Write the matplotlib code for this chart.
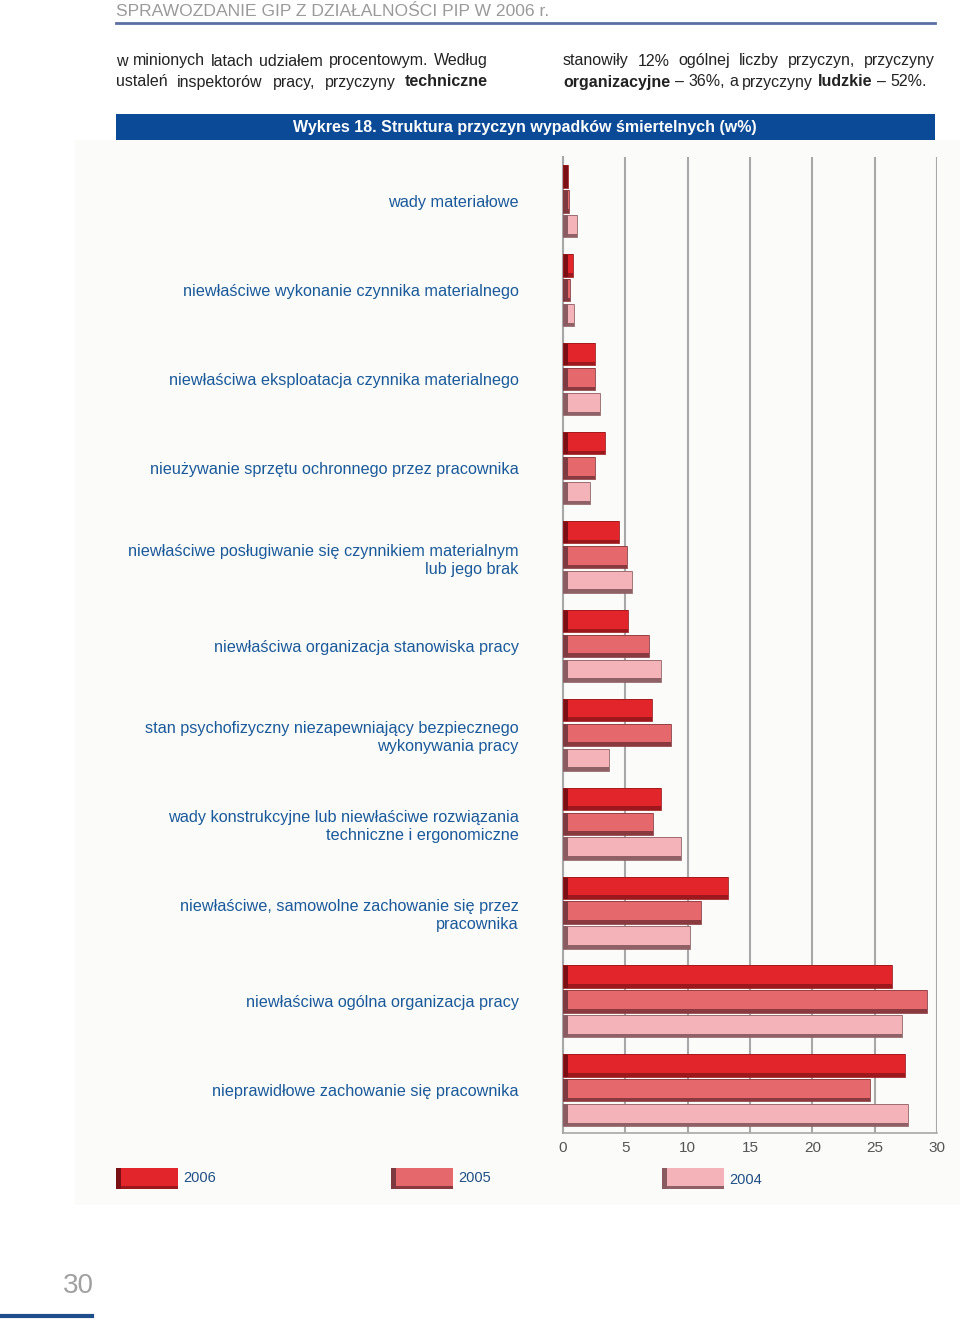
import numpy as np
import matplotlib.pyplot as plt
from matplotlib.patches import Rectangle

categories = [
    "wady materiałowe",
    "niewłaściwe wykonanie czynnika materialnego",
    "niewłaściwa eksploatacja czynnika materialnego",
    "nieużywanie sprzętu ochronnego przez pracownika",
    "niewłaściwe posługiwanie się czynnikiem materialnym\nlub jego brak",
    "niewłaściwa organizacja stanowiska pracy",
    "stan psychofizyczny niezapewniający bezpiecznego\nwykonywania pracy",
    "wady konstrukcyjne lub niewłaściwe rozwiązania\ntechniczne i ergonomiczne",
    "niewłaściwe, samowolne zachowanie się przez\npracownika",
    "niewłaściwa ogólna organizacja pracy",
    "nieprawidłowe zachowanie się pracownika",
]
years = ["2006", "2005", "2004"]
v2006 = [0.4, 0.8, 2.6, 3.4, 4.5, 5.2, 7.1, 7.9, 13.2, 26.4, 27.4]
v2005 = [0.5, 0.6, 2.6, 2.6, 5.1, 6.9, 8.7, 7.2, 11.1, 29.2, 24.6]
v2004 = [1.1, 0.9, 3.0, 2.2, 5.5, 7.9, 3.7, 9.5, 10.2, 27.2, 27.7]
xticks = [0, 5, 10, 15, 20, 25, 30]

# colours: main face, left face, bottom edge
main_c = ["#e2252a", "#e5686d", "#f3b3b8"]
left_c = ["#7a1015", "#7d3a40", "#8a5b60"]
bot_c = ["#9c181c", "#8a3a3f", "#8f6065"]

BLUE = "#1a5a9a"
SANS = ["Liberation Sans", "DejaVu Sans"]

fig = plt.figure(figsize=(9.6, 13.21), dpi=100)
fig.patch.set_facecolor("white")

# page overlay in pixel coordinates
page = fig.add_axes([0, 0, 1, 1], zorder=0)
page.set_xlim(0, 960)
page.set_ylim(1321, 0)
page.axis("off")

page.add_patch(Rectangle((75, 140), 885, 1065, color="#fbfbfa", lw=0))

# header
page.text(116, 12, "SPRAWOZDANIE GIP Z DZIAŁALNOŚCI PIP W 2006 r.", family=SANS,
          fontsize=12.6, color="#9a9a9a", va="center", ha="left")
page.plot([116, 935], [23, 23], color="#5b6fa3", lw=2)

renderer = fig.canvas.get_renderer()


def text_line(words, x0, x1, y, size, bold=(), justify=True):
    arts = []
    total = 0
    for w in words:
        t = page.text(0, y, w, family=SANS, fontsize=size, color="#222222",
                      va="center", ha="left",
                      fontweight="bold" if w in bold else "normal")
        wd = t.get_window_extent(renderer).width
        arts.append((t, wd))
        total += wd
    if justify and len(words) > 1:
        gap = (x1 - x0 - total) / (len(words) - 1)
    else:
        gap = size * 0.28 * 100 / 72
    x = x0
    for t, wd in arts:
        t.set_x(x)
        x += wd + gap


text_line("w minionych latach udziałem procentowym. Według".split(), 116, 488, 61, 11.5)
text_line("ustaleń inspektorów pracy, przyczyny techniczne".split(), 116, 488, 82, 11.5,
          bold=("techniczne",))
text_line("stanowiły 12% ogólnej liczby przyczyn, przyczyny".split(), 563, 935, 61, 11.5)
text_line("organizacyjne – 36%, a przyczyny ludzkie – 52%.".split(), 563, 935, 82, 11.5,
          bold=("organizacyjne", "ludzkie"), justify=False)

# title bar
page.add_patch(Rectangle((116, 114), 819, 26, color="#0b4a96", lw=0))
page.text(525, 127.5, "Wykres 18. Struktura przyczyn wypadków śmiertelnych (w%)",
          family=SANS, fontweight="bold", fontsize=11.5, color="white",
          ha="center", va="center")

# page number
page.text(78, 1286, "30", family=SANS, fontsize=20, color="#a0a0a0",
          ha="center", va="center")
page.plot([0, 92], [1316, 1316], color="#1f4e8c", lw=3)

# legend swatches
leg_x = [116, 391, 662]
for i, yr in enumerate(years):
    x0 = leg_x[i]
    y0 = 1168
    page.add_patch(Rectangle((x0, y0), 62, 21, color=main_c[i], lw=0))
    page.add_patch(Rectangle((x0, y0 + 18), 62, 3, color=bot_c[i], lw=0))
    page.add_patch(Rectangle((x0, y0), 5, 21, color=left_c[i], lw=0))
    page.text(x0 + 67, y0 + 10 + (2 if i == 2 else 0), yr, family=SANS, fontsize=10.5,
              color="#1f4f85", ha="left", va="center")

# chart
ax = fig.add_axes([563 / 960, 1 - 1133 / 1321, 374 / 960, 976 / 1321], zorder=1)
ax.patch.set_alpha(0)

y = np.arange(len(categories))
offsets = [-0.28, 0.0, 0.28]
h = 0.25
data = [v2006, v2005, v2004]
px = 30 / 374.0

for i in range(3):
    vals = np.array(data[i])
    yy = y + offsets[i]
    ax.barh(yy, vals, height=h, color=main_c[i], lw=0, zorder=3)
    ax.barh(yy + h / 2 - 0.02, vals, height=0.04, color=bot_c[i], lw=0, zorder=4)
    ax.barh(yy, np.minimum(vals, 4.5 * px), height=h, color=left_c[i], lw=0, zorder=5)
    ax.barh(yy, vals, height=h, fill=False, edgecolor=bot_c[i], lw=0.6, zorder=6)

ax.set_xlim(0, 30)
ax.set_ylim(10.48, -0.5)
ax.set_xticks(xticks)
ax.set_xticklabels([str(t) for t in xticks], family=SANS, fontsize=11, color="#555555")
ax.tick_params(axis="x", length=0, pad=6)
ax.set_yticks(y)
ax.set_yticklabels(categories, family=SANS, fontsize=11.7, color=BLUE,
                   linespacing=1.25)
ax.tick_params(axis="y", length=0, pad=32)
ax.xaxis.grid(True, color="#a8a8a8", lw=1.5, zorder=0)
for s in ["top", "right"]:
    ax.spines[s].set_visible(False)
ax.spines["left"].set_color("#a8a8a8")
ax.spines["left"].set_linewidth(1.5)
ax.spines["bottom"].set_color("#a8a8a8")
ax.spines["bottom"].set_linewidth(1.2)

fig.savefig("out.png", dpi=100)
